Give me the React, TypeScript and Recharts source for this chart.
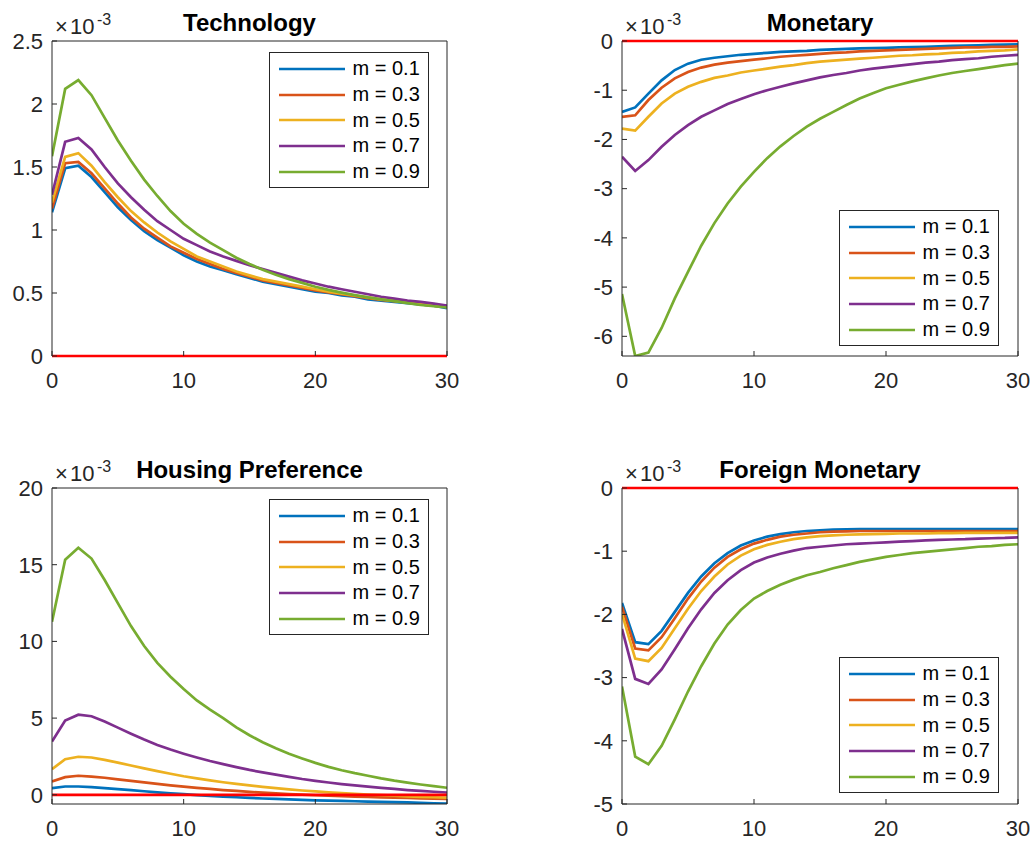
import React from "react";
import { LineChart, Line, XAxis, YAxis, ReferenceLine, Legend } from "recharts";

// horizon (quarters)
const steps = [0, 1, 2, 3, 4, 5, 6, 7, 8, 9, 10, 11, 12, 13, 14, 15, 16, 17, 18, 19, 20, 21, 22, 23, 24, 25, 26, 27, 28, 29, 30];
const labels = ["m = 0.1", "m = 0.3", "m = 0.5", "m = 0.7", "m = 0.9"];
const colors = ["#0072BD", "#D95319", "#EDB120", "#7E2F8E", "#77AC30"];
const xTicks = [0, 10, 20, 30];

// Technology (x 1e-3)
const techM1 = [1.14, 1.49, 1.51, 1.42, 1.3, 1.18, 1.08, 0.99, 0.92, 0.86, 0.8, 0.75, 0.71, 0.68, 0.65, 0.62, 0.59, 0.57, 0.55, 0.53, 0.51, 0.5, 0.48, 0.47, 0.45, 0.44, 0.43, 0.42, 0.41, 0.4, 0.38];
const techM3 = [1.17, 1.53, 1.54, 1.45, 1.33, 1.21, 1.1, 1.01, 0.94, 0.87, 0.82, 0.77, 0.73, 0.69, 0.66, 0.63, 0.6, 0.58, 0.56, 0.54, 0.52, 0.505, 0.49, 0.475, 0.46, 0.445, 0.435, 0.425, 0.41, 0.4, 0.39];
const techM5 = [1.22, 1.58, 1.61, 1.51, 1.38, 1.26, 1.15, 1.06, 0.98, 0.91, 0.85, 0.79, 0.75, 0.71, 0.67, 0.64, 0.61, 0.59, 0.57, 0.55, 0.53, 0.51, 0.495, 0.48, 0.465, 0.45, 0.44, 0.425, 0.415, 0.4, 0.39];
const techM7 = [1.28, 1.7, 1.73, 1.64, 1.5, 1.37, 1.26, 1.16, 1.07, 1.0, 0.93, 0.88, 0.83, 0.79, 0.755, 0.72, 0.69, 0.66, 0.63, 0.6, 0.575, 0.55, 0.53, 0.51, 0.49, 0.47, 0.455, 0.44, 0.43, 0.415, 0.4];
const techM9 = [1.585, 2.12, 2.19, 2.07, 1.89, 1.71, 1.55, 1.4, 1.27, 1.15, 1.05, 0.97, 0.9, 0.84, 0.78, 0.73, 0.685, 0.645, 0.61, 0.58, 0.55, 0.525, 0.503, 0.483, 0.465, 0.45, 0.435, 0.42, 0.405, 0.395, 0.385];

// Monetary
const monM1 = [-1.44, -1.35, -1.07, -0.8, -0.59, -0.46, -0.38, -0.34, -0.31, -0.28, -0.26, -0.24, -0.22, -0.21, -0.2, -0.18, -0.17, -0.16, -0.15, -0.145, -0.14, -0.13, -0.125, -0.12, -0.11, -0.1, -0.095, -0.09, -0.08, -0.075, -0.07];
const monM3 = [-1.54, -1.51, -1.2, -0.95, -0.76, -0.63, -0.54, -0.48, -0.44, -0.41, -0.38, -0.35, -0.32, -0.3, -0.28, -0.26, -0.24, -0.23, -0.21, -0.2, -0.19, -0.18, -0.17, -0.16, -0.15, -0.14, -0.13, -0.13, -0.12, -0.12, -0.11];
const monM5 = [-1.78, -1.82, -1.54, -1.27, -1.07, -0.93, -0.83, -0.75, -0.7, -0.64, -0.6, -0.56, -0.52, -0.49, -0.45, -0.42, -0.4, -0.38, -0.36, -0.34, -0.32, -0.3, -0.29, -0.27, -0.26, -0.24, -0.23, -0.21, -0.2, -0.19, -0.17];
const monM7 = [-2.35, -2.64, -2.42, -2.15, -1.91, -1.71, -1.54, -1.41, -1.28, -1.18, -1.08, -1.0, -0.93, -0.86, -0.8, -0.74, -0.69, -0.65, -0.6, -0.56, -0.53, -0.5, -0.47, -0.44, -0.42, -0.39, -0.37, -0.35, -0.32, -0.3, -0.28];
const monM9 = [-5.14, -6.4, -6.33, -5.83, -5.23, -4.69, -4.16, -3.7, -3.3, -2.96, -2.66, -2.38, -2.14, -1.93, -1.74, -1.58, -1.44, -1.3, -1.17, -1.06, -0.96, -0.89, -0.82, -0.76, -0.7, -0.65, -0.61, -0.57, -0.53, -0.49, -0.46];

// Housing Preference
const houM1 = [0.43, 0.54, 0.54, 0.5, 0.44, 0.37, 0.3, 0.23, 0.16, 0.1, 0.04, -0.02, -0.07, -0.12, -0.16, -0.2, -0.24, -0.27, -0.3, -0.33, -0.36, -0.38, -0.4, -0.42, -0.44, -0.46, -0.48, -0.5, -0.52, -0.55, -0.58];
const houM3 = [0.87, 1.15, 1.24, 1.19, 1.11, 1.01, 0.91, 0.81, 0.71, 0.62, 0.53, 0.45, 0.38, 0.31, 0.25, 0.19, 0.14, 0.09, 0.05, 0.01, -0.03, -0.06, -0.09, -0.12, -0.14, -0.17, -0.19, -0.21, -0.23, -0.25, -0.27];
const houM5 = [1.67, 2.32, 2.48, 2.43, 2.28, 2.1, 1.91, 1.72, 1.54, 1.37, 1.21, 1.07, 0.94, 0.82, 0.71, 0.61, 0.52, 0.43, 0.35, 0.28, 0.22, 0.16, 0.11, 0.06, 0.02, -0.02, -0.06, -0.1, -0.13, -0.16, -0.19];
const houM7 = [3.47, 4.84, 5.22, 5.12, 4.78, 4.38, 3.98, 3.6, 3.25, 2.95, 2.68, 2.43, 2.2, 2.0, 1.8, 1.62, 1.46, 1.31, 1.17, 1.03, 0.91, 0.8, 0.7, 0.61, 0.53, 0.45, 0.38, 0.31, 0.25, 0.2, 0.15];
const houM9 = [11.28, 15.33, 16.11, 15.4, 14.0, 12.5, 11.0, 9.7, 8.6, 7.7, 6.9, 6.15, 5.55, 5.0, 4.4, 3.88, 3.43, 3.03, 2.68, 2.37, 2.08, 1.82, 1.6, 1.41, 1.24, 1.07, 0.92, 0.79, 0.67, 0.56, 0.46];

// Foreign Monetary
const forM1 = [-1.82, -2.44, -2.47, -2.26, -1.96, -1.66, -1.4, -1.19, -1.03, -0.91, -0.83, -0.77, -0.73, -0.7, -0.68, -0.67, -0.66, -0.655, -0.65, -0.65, -0.65, -0.65, -0.65, -0.65, -0.65, -0.65, -0.65, -0.65, -0.65, -0.65, -0.65];
const forM3 = [-1.88, -2.54, -2.57, -2.36, -2.06, -1.75, -1.48, -1.26, -1.09, -0.97, -0.88, -0.82, -0.77, -0.74, -0.72, -0.7, -0.69, -0.685, -0.68, -0.68, -0.68, -0.68, -0.68, -0.68, -0.68, -0.68, -0.68, -0.68, -0.68, -0.68, -0.68];
const forM5 = [-1.99, -2.7, -2.74, -2.53, -2.22, -1.91, -1.63, -1.4, -1.21, -1.07, -0.97, -0.9, -0.85, -0.81, -0.78, -0.76, -0.75, -0.74, -0.735, -0.73, -0.725, -0.72, -0.72, -0.72, -0.715, -0.715, -0.71, -0.71, -0.71, -0.71, -0.71];
const forM7 = [-2.23, -3.02, -3.1, -2.87, -2.55, -2.22, -1.92, -1.66, -1.46, -1.3, -1.18, -1.1, -1.04, -0.99, -0.95, -0.93, -0.91, -0.89, -0.88, -0.87, -0.86, -0.85, -0.84, -0.83, -0.82, -0.815, -0.81, -0.8, -0.795, -0.79, -0.78];
const forM9 = [-3.14, -4.25, -4.37, -4.08, -3.66, -3.22, -2.82, -2.46, -2.16, -1.93, -1.75, -1.63, -1.53, -1.45, -1.38, -1.33, -1.27, -1.22, -1.17, -1.13, -1.09, -1.06, -1.03, -1.01, -0.99, -0.97, -0.95, -0.93, -0.92, -0.9, -0.89];

const FONT = '"Liberation Sans", Arial, Helvetica, sans-serif';
const AXIS = "#262626";
const LW = 2.7;

function LegendBox({ payload }: any) {
  return (
    <div
      style={{
        width: 160,
        height: 136,
        boxSizing: "border-box",
        border: `1px solid ${AXIS}`,
        background: "#fff",
        paddingTop: 3,
        fontFamily: FONT,
      }}
    >
      {(payload || []).map((p: any) => (
        <div key={p.value} style={{ display: "flex", alignItems: "center", height: 25.8 }}>
          <svg width={66} height={6} style={{ marginLeft: 9 }}>
            <line x1={0} y1={3} x2={66} y2={3} stroke={p.color} strokeWidth={LW} />
          </svg>
          <span style={{ marginLeft: 8, fontSize: 20, color: "#000", lineHeight: "25.8px" }}>{p.value}</span>
        </div>
      ))}
    </div>
  );
}

function Panel({ x, y, w, h, title, series, domain, ticks, legendTop }: any) {
  const chartW = w + 65;
  const chartH = h + 85;
  const data = steps.map((t, i) => {
    const row: any = { t };
    series.forEach((s: number[], k: number) => (row["s" + k] = s[i]));
    return row;
  });
  const tickFont = { fill: AXIS, fontSize: 22, fontFamily: FONT };
  // the red zero line sits on the frame edge when 0 is a domain bound
  const zeroAtBottom = domain[0] === 0;
  const zeroAtTop = domain[1] === 0;
  return (
    <div style={{ position: "absolute", left: x, top: y, width: chartW, height: chartH }}>
      <LineChart width={chartW} height={chartH} data={data} margin={{ top: 39, right: 14, bottom: 15, left: 5 }}>
        <XAxis
          xAxisId="b"
          dataKey="t"
          type="number"
          domain={[0, 30]}
          ticks={xTicks}
          allowDataOverflow
          height={30}
          tickSize={-5}
          tickMargin={21}
          stroke={AXIS}
          axisLine={!zeroAtBottom}
          tick={tickFont}
        />
        <XAxis
          xAxisId="top"
          orientation="top"
          type="number"
          domain={[0, 30]}
          ticks={xTicks}
          allowDataOverflow
          height={1}
          tickSize={-5}
          tick={false}
          stroke={AXIS}
          axisLine={!zeroAtTop}
        />
        <YAxis
          yAxisId="l"
          type="number"
          domain={domain}
          ticks={ticks}
          allowDataOverflow
          width={45}
          tickSize={-5}
          tickMargin={14}
          stroke={AXIS}
          tick={tickFont}
        />
        <YAxis
          yAxisId="r"
          orientation="right"
          type="number"
          domain={domain}
          ticks={ticks}
          allowDataOverflow
          width={1}
          tickSize={-5}
          tick={false}
          stroke={AXIS}
        />
        {series.map((_: number[], k: number) => (
          <Line
            key={k}
            xAxisId="b"
            yAxisId="l"
            type="linear"
            dataKey={"s" + k}
            name={labels[k]}
            stroke={colors[k]}
            strokeWidth={LW}
            dot={false}
            isAnimationActive={false}
          />
        ))}
        <ReferenceLine xAxisId="b" yAxisId="l" y={0} stroke="#FF0000" strokeWidth={LW} />
        <Legend
          layout="vertical"
          align="center"
          verticalAlign="middle"
          wrapperStyle={{ left: 266.5, top: legendTop, width: 160, height: 136 }}
          content={(props: any) => <LegendBox payload={props.payload} />}
        />
      </LineChart>
      <svg
        width={chartW}
        height={chartH}
        style={{ position: "absolute", left: 0, top: 0, pointerEvents: "none" }}
      >
        <text x={50 + w / 2} y={30} textAnchor="middle" fontFamily={FONT} fontWeight="bold" fontSize={24} fill="#000">
          {title}
        </text>
        <text x={53} y={33} fontFamily={FONT} fontSize={22} fill={AXIS}>
          ×
        </text>
        <text x={68} y={33} fontFamily={FONT} fontSize={22} fill={AXIS}>
          10
        </text>
        <text x={95} y={24} fontFamily={FONT} fontSize={16} fill={AXIS}>
          -3
        </text>
      </svg>
    </div>
  );
}

export default function App() {
  return (
    <div style={{ position: "absolute", left: 0, top: 0, width: 1034, height: 844, background: "#fff" }}>
      <Panel
        x={2}
        y={1}
        w={395}
        h={315}
        title="Technology"
        series={[techM1, techM3, techM5, techM7, techM9]}
        domain={[0, 2.5]}
        ticks={[0, 0.5, 1, 1.5, 2, 2.5]}
        legendTop={51}
      />
      <Panel
        x={572}
        y={1}
        w={396}
        h={315}
        title="Monetary"
        series={[monM1, monM3, monM5, monM7, monM9]}
        domain={[-6.4, 0]}
        ticks={[-6, -5, -4, -3, -2, -1, 0]}
        legendTop={209}
      />
      <Panel
        x={2}
        y={448}
        w={395}
        h={316}
        title="Housing Preference"
        series={[houM1, houM3, houM5, houM7, houM9]}
        domain={[-0.6, 20]}
        ticks={[0, 5, 10, 15, 20]}
        legendTop={51}
      />
      <Panel
        x={572}
        y={448}
        w={396}
        h={316}
        title="Foreign Monetary"
        series={[forM1, forM3, forM5, forM7, forM9]}
        domain={[-5, 0]}
        ticks={[-5, -4, -3, -2, -1, 0]}
        legendTop={209}
      />
    </div>
  );
}
